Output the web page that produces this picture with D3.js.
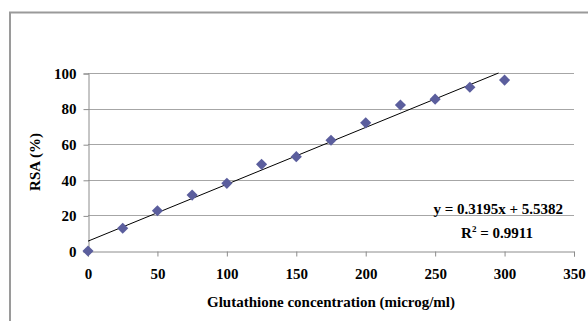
<!DOCTYPE html>
<html>
<head>
<meta charset="utf-8">
<script src="https://cdn.jsdelivr.net/npm/d3@7"></script>
<style>
  body { margin: 0; background: #fff; }
  svg text { font-family: "Liberation Serif", "Times New Roman", serif !important; font-weight: bold; fill: #000; }
</style>
</head>
<body>
<svg id="chart" width="588" height="321"></svg>
<script>
var width = 588;
var height = 321;

// data
var concentration = [0, 25, 50, 75, 100, 125, 150, 175, 200, 225, 250, 275, 300];
var rsa = [0, 12.8, 22.6, 31.4, 38, 48.7, 53, 62.2, 72, 82, 85.3, 92, 96];
var xTicks = [0, 50, 100, 150, 200, 250, 300, 350];
var yTicks = [0, 20, 40, 60, 80, 100];
var slope = 0.3195;
var intercept = 5.5382;
var r2 = "0.9911";

var fontSize = "15px";

var svg = d3.select("#chart");

// outer chart frame
svg.append("path")
    .attr("d", "M10,321 V12.5 H588")
    .attr("fill", "none")
    .attr("stroke", "#9a9a9a")
    .attr("stroke-width", 2);

var x = d3.scaleLinear().domain([0, 350]).range([88, 574]);
var y = d3.scaleLinear().domain([0, 100]).range([251, 73]);

// gridlines
svg.append("g")
    .selectAll("line")
    .data(yTicks.slice(1))
    .enter()
    .append("line")
    .attr("x1", x(0)).attr("x2", x(350))
    .attr("y1", function(d) { return Math.round(y(d)) + 0.5; })
    .attr("y2", function(d) { return Math.round(y(d)) + 0.5; })
    .attr("stroke", "#a6a6a6");

// axes
var yAxis = d3.axisLeft(y).tickValues(yTicks).tickSize(5).tickPadding(7);
var xAxis = d3.axisBottom(x).tickValues(xTicks).tickSize(5).tickPadding(12);

var gy = svg.append("g").attr("transform", "translate(" + (x(0) + 0.5) + ",0.5)").call(yAxis);
var gx = svg.append("g").attr("transform", "translate(0," + (Math.round(y(0)) + 0.5) + ")").call(xAxis);

[gx, gy].forEach(function(g) {
    g.attr("font-family", null).attr("font-size", null);
    g.select(".domain").attr("stroke", "#8c8c8c");
    g.selectAll(".tick line").attr("stroke", "#8c8c8c");
    g.selectAll("text")
        .style("font-size", fontSize)
        .attr("fill", "#000");
});

// trendline, clipped to the top of the axis
var xEnd = (100 - intercept) / slope;
svg.append("line")
    .attr("x1", x(0)).attr("y1", y(intercept))
    .attr("x2", x(xEnd)).attr("y2", y(100))
    .attr("stroke", "#000")
    .attr("stroke-width", 1);

// markers
var diamond = d3.symbol().type(d3.symbolSquare).size(62);
svg.append("g")
    .selectAll("path")
    .data(concentration)
    .enter()
    .append("path")
    .attr("d", diamond)
    .attr("transform", function(d, i) {
        return "translate(" + x(d) + "," + y(rsa[i]) + ") rotate(45)";
    })
    .attr("fill", "#5b5e9d");

// axis titles
svg.append("text")
    .attr("x", (x(0) + x(350)) / 2)
    .attr("y", 307)
    .attr("text-anchor", "middle")
    .style("font-size", fontSize)
    .text("Glutathione concentration (microg/ml)");

svg.append("text")
    .attr("transform", "translate(40," + ((y(0) + y(100)) / 2) + ") rotate(-90)")
    .attr("text-anchor", "middle")
    .style("font-size", fontSize)
    .text("RSA (%)");

// trendline label
svg.append("text")
    .attr("x", 563)
    .attr("y", 214)
    .attr("text-anchor", "end")
    .style("font-size", fontSize)
    .text("y = " + slope + "x + " + intercept);

var r2Label = svg.append("text")
    .attr("x", 497)
    .attr("y", 238)
    .attr("text-anchor", "middle")
    .style("font-size", fontSize);
r2Label.append("tspan").text("R");
r2Label.append("tspan").attr("dy", -6).style("font-size", "9px").text("2");
r2Label.append("tspan").attr("dy", 6).text(" = " + r2);
</script>
</body>
</html>
